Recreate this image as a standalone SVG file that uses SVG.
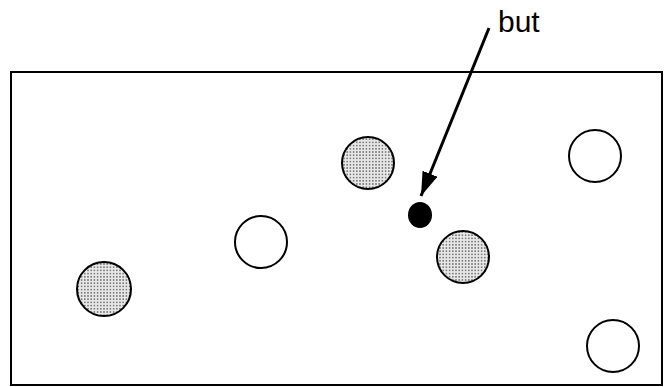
<svg xmlns="http://www.w3.org/2000/svg" width="668" height="387" viewBox="0 0 668 387">
<style>
.frame{fill:none;stroke:#000;stroke-width:2}
.c{stroke:#000;stroke-width:2}
.open{fill:#fff}
.shaded{fill:url(#dots)}
.lbl{font-family:"Liberation Sans",Arial,sans-serif;font-size:30px;fill:#000}
.conn{stroke:#000;stroke-width:3;fill:none}
</style>
<defs>
<pattern id="dots" width="3.2" height="3.2" patternUnits="userSpaceOnUse">
<rect width="3.2" height="3.2" fill="#e8e8e8"/>
<circle cx="1.6" cy="1.6" r="0.8" fill="#555"/>
</pattern>
<marker id="ah" viewBox="0 0 24 16" refX="24" refY="8" markerWidth="24" markerHeight="16" markerUnits="userSpaceOnUse" orient="auto">
<path d="M0,0 L24,8 L0,16 Z" fill="#000"/>
</marker>
</defs>
<rect class="frame" x="11" y="72" width="651" height="313"/>
<g id="s1"><circle class="c shaded" cx="368" cy="163" r="26"/></g>
<g id="s2"><circle class="c shaded" cx="463" cy="257" r="26"/></g>
<g id="s3"><circle class="c shaded" cx="104" cy="289" r="27"/></g>
<g id="o1"><circle class="c open" cx="261" cy="242" r="26"/></g>
<g id="o2"><circle class="c open" cx="595" cy="156" r="26"/></g>
<g id="o3"><circle class="c open" cx="613" cy="346" r="26"/></g>
<g id="target"><ellipse cx="420" cy="215" rx="12" ry="13" fill="#000"/></g>
<g id="label"><text class="lbl" x="498" y="32">but</text></g>
<g id="connectors"><line class="conn" x1="489" y1="28" x2="421" y2="196" marker-end="url(#ah)"/></g>
</svg>
